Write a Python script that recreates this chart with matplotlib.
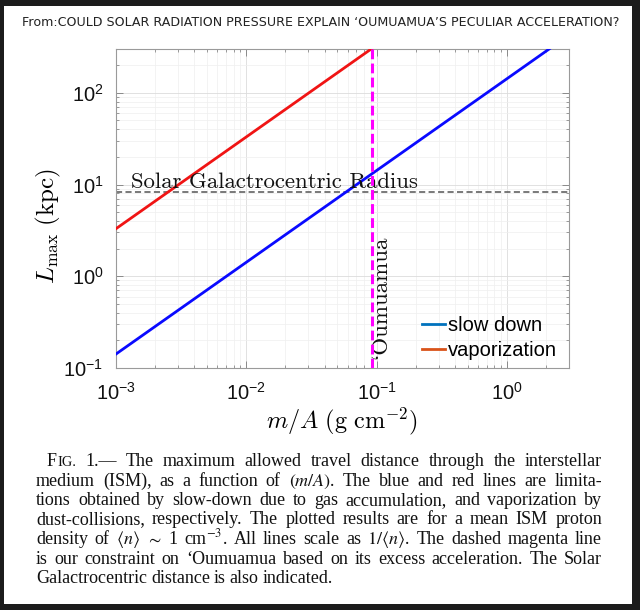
import matplotlib
matplotlib.use('Agg')
import matplotlib.pyplot as plt
from matplotlib.lines import Line2D
from matplotlib.patches import Rectangle
from matplotlib.ticker import LogLocator, NullFormatter, FixedLocator, FixedFormatter

plt.rcParams['mathtext.fontset'] = 'custom'
plt.rcParams['mathtext.rm'] = 'Liberation Sans'
plt.rcParams['mathtext.it'] = 'Liberation Sans:italic'
plt.rcParams['mathtext.bf'] = 'Liberation Sans:bold'

# ---------------- data ----------------
mass_per_area = [1e-3, 3.0]          # g cm^-2
L_slow_down = [0.142, 426.0]         # kpc
mass_per_area_vap = [1e-3, 0.1]
L_vaporization = [3.3, 330.0]
solar_radius_kpc = 8.3
oumuamua_m_over_A = 0.093
x_ticks = [1e-3, 1e-2, 1e-1, 1e0]
x_tick_labels = [r'$10^{-3}$', r'$10^{-2}$', r'$10^{-1}$', r'$10^{0}$']
y_ticks = [1e-1, 1e0, 1e1, 1e2]
y_tick_labels = [r'$10^{-1}$', r'$10^{0}$', r'$10^{1}$', r'$10^{2}$']
legend_labels = ['slow down', 'vaporization']
legend_colors = ['#0072BD', '#D95319']
title_text = 'From:COULD SOLAR RADIATION PRESSURE EXPLAIN \u2018OUMUAMUA\u2019S PECULIAR ACCELERATION?'

W, H = 640, 610
fig = plt.figure(figsize=(W / 100, H / 100), dpi=100)
fig.patch.set_facecolor('#1c1c1c')
fig.add_artist(Rectangle((4 / W, 6 / H), (632 - 4) / W, (604 - 6) / H,
                         transform=fig.transFigure, facecolor='white',
                         edgecolor='none', zorder=-5))

fig.text(321 / W, 1 - 22 / H, title_text, ha='center', va='center',
         fontsize=9.1, family='DejaVu Sans', color='#222222')

ax = fig.add_axes([116 / W, 1 - 368 / H, (569 - 116) / W, (368 - 49) / H])
ax.set_xscale('log')
ax.set_yscale('log')
ax.set_xlim(1e-3, 3)
ax.set_ylim(0.1, 300)

ax.plot(mass_per_area, L_slow_down, color='#0a0aff', lw=2, zorder=3)
ax.plot(mass_per_area_vap, L_vaporization, color='#f01414', lw=2, zorder=3)
ax.axhline(solar_radius_kpc, color='#555555', lw=1.1, ls=(0, (4.0, 2.2)), zorder=2)
ax.axvline(oumuamua_m_over_A, color='#ff00ff', lw=2.2, ls=(0, (3.2, 1.4)), zorder=4)

ax.xaxis.set_major_locator(FixedLocator(x_ticks))
ax.xaxis.set_major_formatter(FixedFormatter(x_tick_labels))
ax.yaxis.set_major_locator(FixedLocator(y_ticks))
ax.yaxis.set_major_formatter(FixedFormatter(y_tick_labels))
ax.xaxis.set_minor_locator(LogLocator(base=10, subs=range(2, 10), numticks=20))
ax.yaxis.set_minor_locator(LogLocator(base=10, subs=range(2, 10), numticks=20))
ax.xaxis.set_minor_formatter(NullFormatter())
ax.yaxis.set_minor_formatter(NullFormatter())

ax.grid(which='major', color='#dcdcdc', lw=0.6)
ax.grid(which='minor', color='#efefef', lw=0.5)
ax.set_axisbelow(True)
for s in ax.spines.values():
    s.set_color('#9a9a9a')
    s.set_linewidth(0.8)
ax.tick_params(which='both', direction='in', top=True, right=True,
               color='#8a8a8a', labelsize=14.5, labelcolor='#111111')
ax.tick_params(which='major', length=5, width=0.7)
ax.tick_params(which='minor', length=2.5, width=0.6)
ax.tick_params(axis='x', which='major', pad=10)
ax.tick_params(axis='y', which='major', pad=9)

ax.set_xlabel(r'$m/A\ (\mathrm{g\ cm}^{-2})$', fontsize=17.5, math_fontfamily='cm')
ax.set_ylabel(r'$L_{\max}\ (\mathrm{kpc})$', fontsize=18, math_fontfamily='cm')
ax.xaxis.set_label_coords(0.5, (368 - 421) / 319)
ax.xaxis.label.set_va('center')
ax.yaxis.set_label_coords((48 - 116) / 453, (368 - 226) / 319)
ax.yaxis.label.set_va('center')

ax.text(0.033, 0.564, 'Solar Galactrocentric Radius', transform=ax.transAxes,
        family='cmr10', fontsize=16.4, ha='left', va='baseline', color='#111111')
ax.text(0.585, 0.028, '`Oumuamua', transform=ax.transAxes, family='cmr10',
        fontsize=16.5, rotation=90, ha='center', va='bottom', color='#111111')

handles = [Line2D([], [], color=c, lw=2) for c in legend_colors]
ax.legend(handles, legend_labels, loc='lower right', bbox_to_anchor=(1.0, -0.012),
          frameon=False, handlelength=1.15, handletextpad=0.15, labelspacing=0.3,
          borderpad=0.4, borderaxespad=0.2,
          prop={'family': 'Liberation Sans', 'size': 14.5})

# ---------------- caption (justified) ----------------
caption_lines = [
    [[('F', 1.0), ('IG.', 0.8)], '1.\u2014', 'The', 'maximum', 'allowed', 'travel', 'distance',
     'through', 'the', 'interstellar'],
    ['medium', '(ISM),', 'as', 'a', 'function', 'of', r'$(m/A)$.', 'The', 'blue', 'and', 'red',
     'lines', 'are', 'limita-'],
    ['tions', 'obtained', 'by', 'slow-down', 'due', 'to', 'gas', 'accumulation,', 'and',
     'vaporization', 'by'],
    ['dust-collisions,', 'respectively.', 'The', 'plotted', 'results', 'are', 'for', 'a', 'mean',
     'ISM', 'proton'],
    ['density', 'of', r'$\langle n\rangle$', r'$\sim$', '1', r'cm$^{-3}$.', 'All', 'lines',
     'scale', 'as', r'$1/\langle n\rangle$.', 'The', 'dashed', 'magenta', 'line'],
    ['is', 'our', 'constraint', 'on', '\u2018Oumuamua', 'based', 'on', 'its', 'excess',
     'acceleration.', 'The', 'Solar'],
    ['Galactrocentric', 'distance', 'is', 'also', 'indicated.'],
]
cap_size = 13.0
x_left, x_right = 36.0, 602.0
base0, dy = 466.0, 19.5
renderer = fig.canvas.get_renderer()


def make_word(word, y):
    segs = word if isinstance(word, list) else [(word, 1.0)]
    arts = []
    cx = 0.0
    for s, scale in segs:
        t = fig.text(cx / W, 1 - y / H, s, ha='left', va='baseline',
                     fontsize=cap_size * scale, family='Liberation Serif',
                     math_fontfamily='stix', color='#111111')
        cx += t.get_window_extent(renderer).width
        arts.append(t)
    return arts, cx


for i, words in enumerate(caption_lines):
    y = base0 + dy * i
    x0 = x_left + (11 if i == 0 else 0)
    pieces = [make_word(w, y) for w in words]
    total = sum(p[1] for p in pieces)
    last = i == len(caption_lines) - 1
    gap = 4.0 if last else (x_right - x0 - total) / (len(pieces) - 1)
    cx = x0
    for arts, wd in pieces:
        for a in arts:
            px, py = a.get_position()
            a.set_position((px + cx / W, py))
        cx += wd + gap

fig.savefig('out.png', dpi=100, facecolor=fig.get_facecolor())
